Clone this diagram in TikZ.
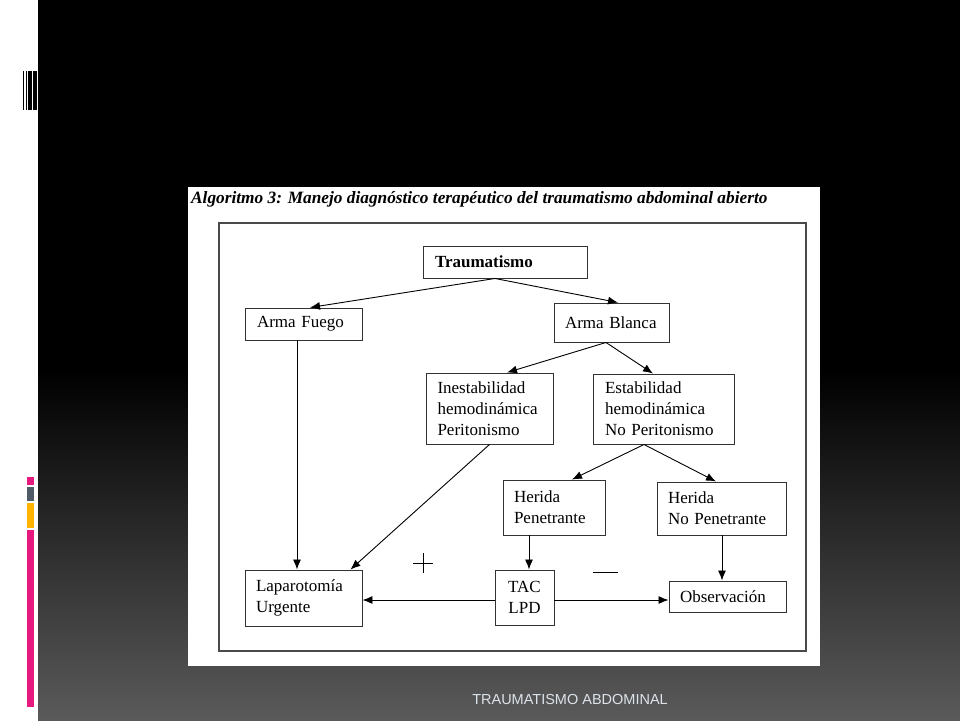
\documentclass[tikz,border=0pt]{standalone}
\usepackage{fontspec}
\setmainfont{Liberation Serif}
\newfontfamily\footfont{Liberation Sans}
\usetikzlibrary{arrows.meta}
\definecolor{barpink}{HTML}{E6197E}
\definecolor{bargray}{HTML}{4F5B66}
\definecolor{baryellow}{HTML}{FFB400}
\definecolor{bgbot}{HTML}{5A5A5A}
\definecolor{foot}{HTML}{DCE3EA}
\definecolor{framegray}{HTML}{4A4A4A}
\begin{document}
\begin{tikzpicture}[x=1pt,y=-1pt,
  box/.style={draw=black!80, line width=0.95pt, inner xsep=0pt, inner ysep=0pt,
    align=left, font=\fontsize{17}{21}\selectfont},
  arr/.style={-{Latex[length=10pt,width=8pt]}, line width=0.9pt},
  sign/.style={line width=0.8pt}]
\useasboundingbox (0,0) rectangle (960,720);
% background
\fill[black] (38,0) rectangle (960,720);
\shade[top color=black, bottom color=bgbot] (38,370) rectangle (960,720);
\fill[white] (0,0) rectangle (38,720);
% top-left decoration
\fill[black] (22.5,71) rectangle (24,110);
\fill[black] (25.5,71) rectangle (27,110);
\fill[black] (27.5,71) rectangle (31.5,110);
\fill[black] (32.5,71) rectangle (36.5,110);
% coloured bars
\fill[barpink] (27,477) rectangle (34,485);
\fill[bargray] (27,487) rectangle (34,501);
\fill[baryellow] (27,503) rectangle (34,528);
\fill[barpink] (27,530) rectangle (34,707);
% panel
\fill[white] (188,187) rectangle (820,666);
\node[anchor=base west, inner sep=0pt, font=\fontsize{17.3}{21}\selectfont\bfseries\itshape] (title) at (191,203)
  {Algoritmo 3: Manejo diagnóstico terapéutico del traumatismo abdominal abierto};
\draw[framegray, line width=1.4pt] (219,223) rectangle (806,651);
% boxes
\node[box, minimum width=164pt, minimum height=32pt, text width=140pt] (trauma) at (505,262) {\textbf{Traumatismo}};
\node[box, minimum width=117pt, minimum height=32pt, text width=93pt] (fuego) at (303.5,324) {Arma Fuego};
\node[box, minimum width=115pt, minimum height=39pt, text width=93pt] (blanca) at (611.5,322.5) {Arma Blanca};
\node[box, minimum width=127pt, minimum height=71pt, text width=104pt] (inest) at (489.5,408.5) {Inestabilidad\\hemodinámica\\Peritonismo};
\node[box, minimum width=141pt, minimum height=70pt, text width=117pt] (estab) at (663.5,409) {Estabilidad\\hemodinámica\\No Peritonismo};
\node[box, minimum width=102pt, minimum height=55pt, text width=80pt] (hpen) at (554,507.5) {Herida\\Penetrante};
\node[box, minimum width=129pt, minimum height=53pt, text width=107pt] (hnopen) at (721.5,508.5) {Herida\\No Penetrante};
\node[box, minimum width=117pt, minimum height=56pt, text width=95pt] (lapa) at (303.5,598) {Laparotomía\\Urgente};
\node[box, minimum width=59pt, minimum height=55pt, text width=40pt, align=center] (tac) at (524.5,597.5) {TAC\\LPD};
\node[box, minimum width=117pt, minimum height=31pt, text width=95pt] (obs) at (727.5,596.5) {Observación};
% connectors
\draw[arr] ([xshift=-10pt]trauma.south) -- ([xshift=6.5pt]fuego.north);
\draw[arr] ([xshift=-10pt]trauma.south) -- ([xshift=6.5pt]blanca.north);
\draw[arr] ([xshift=-5.5pt]blanca.south) -- ([xshift=17.5pt]inest.north);
\draw[arr] ([xshift=-5.5pt]blanca.south) -- ([xshift=-10.5pt]estab.north);
\draw[arr] ([xshift=-19.5pt]estab.south) -- ([xshift=18pt]hpen.north);
\draw[arr] ([xshift=-19.5pt]estab.south) -- ([xshift=-5.5pt]hnopen.north);
\draw[arr] ([xshift=-6.5pt]fuego.south) -- ([xshift=-6.5pt]lapa.north);
\draw[arr] (inest.south) -- ([xshift=-12pt]lapa.north east);
\draw[arr] ([xshift=-25pt]hpen.south) -- ([xshift=4.5pt]tac.north);
\draw[arr] ([xshift=0.5pt]hnopen.south) -- ([xshift=-5.5pt]obs.north);
\draw[arr] ([yshift=-2.5pt]tac.west) -- ([yshift=-2pt]lapa.east);
\draw[arr] ([yshift=-2.5pt]tac.east) -- ([yshift=-3.5pt]obs.west);
% + and - signs
\coordinate (plusc) at (423,563);
\draw[sign] ([xshift=-10pt]plusc) -- ([xshift=10pt]plusc);
\draw[sign] ([yshift=10pt]plusc) -- ([yshift=-10pt]plusc);
\coordinate (minusl) at (593,572);
\coordinate (minusr) at (618,572);
\draw[sign] (minusl) -- (minusr);
% footer
\node[anchor=base, inner sep=0pt, text=foot, font=\footfont\fontsize{14.5}{17}\selectfont] (footer) at (570,704) {TRAUMATISMO ABDOMINAL};
\end{tikzpicture}
\end{document}
